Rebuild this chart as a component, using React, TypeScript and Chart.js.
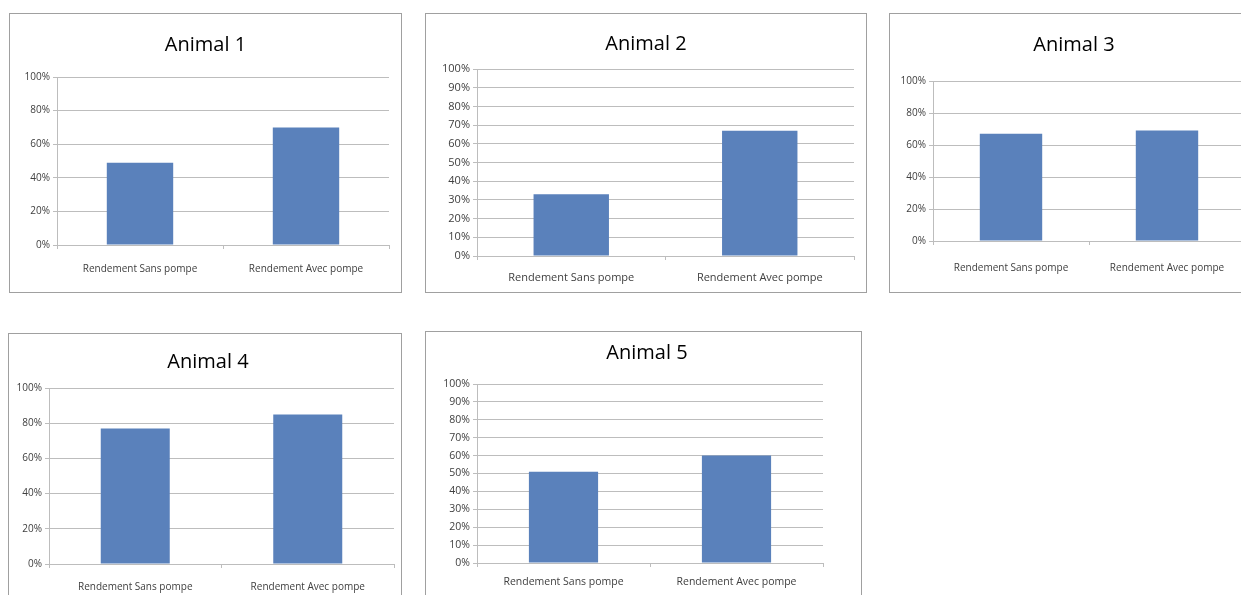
import React, { useEffect, useRef } from "react";
import { Chart, registerables } from "chart.js";

Chart.register(...registerables);

// ---- data ----
const categories = ["Rendement Sans pompe", "Rendement Avec pompe"];
const animalTitles = ["Animal 1", "Animal 2", "Animal 3", "Animal 4", "Animal 5"];
const sansPompe = [49, 33, 67, 77, 51]; // %
const avecPompe = [70, 67, 69, 85, 60]; // %
const tickSteps = [20, 10, 20, 20, 10]; // % between y tick labels
const yMax = 100;

// ---- layout (page pixels) ----
type Panel = {
  left: number; top: number; w: number; h: number;
  L: number; R: number; T: number; B: number; // plot area inside canvas
  tcx: number; tcy: number; // title centre inside canvas
  labelY: number; // category label centre inside canvas
  tickFont: number; catFont: number;
};

const PANELS: Panel[] = [
  { left: 9, top: 13, w: 393, h: 280, L: 47, R: 379, T: 63, B: 231, tcx: 195, tcy: 31, labelY: 255, tickFont: 10, catFont: 10 },
  { left: 425, top: 13, w: 442, h: 280, L: 51, R: 428, T: 55, B: 242, tcx: 219, tcy: 30, labelY: 264, tickFont: 11, catFont: 11 },
  { left: 889, top: 13, w: 370, h: 280, L: 43, R: 355, T: 67, B: 227, tcx: 184, tcy: 31, labelY: 254, tickFont: 10, catFont: 10 },
  { left: 8, top: 333, w: 394, h: 280, L: 40, R: 385, T: 54, B: 230, tcx: 199, tcy: 28, labelY: 253, tickFont: 10, catFont: 10 },
  { left: 425, top: 331, w: 437, h: 280, L: 51, R: 397, T: 52, B: 231, tcx: 221, tcy: 21, labelY: 250, tickFont: 10.5, catFont: 10.5 },
];

const TITLE_SIZE = 20;
const TITLE_LH = 1.2;
const GRID = "#bdbdbd";
const BAR = "#5A81BB";

function AnimalChart({ idx }: { idx: number }) {
  const ref = useRef<HTMLCanvasElement | null>(null);
  const p = PANELS[idx];
  const cw = p.w - 2;
  const ch = p.h - 2;

  useEffect(() => {
    if (!ref.current) return;
    const titleBox = TITLE_SIZE * TITLE_LH;
    const padLeft = Math.max(0, 2 * p.tcx - cw);
    const padTop = p.tcy - titleBox / 2;
    const titlePadBottom = p.T - (p.tcy + titleBox / 2);
    const yWidth = p.L - padLeft;
    const rightSpace = cw - p.R;
    const xHeight = ch - p.B;
    const tickLen = 4;
    const catPad = p.labelY - p.B - tickLen - p.catFont / 2 - 1;

    const chart = new Chart(ref.current, {
      type: "bar",
      data: {
        labels: categories,
        datasets: [
          {
            data: [sansPompe[idx], avecPompe[idx]],
            backgroundColor: BAR,
            borderWidth: 0,
            barPercentage: 0.4,
            categoryPercentage: 1,
          },
        ],
      },
      options: {
        animation: false,
        responsive: false,
        maintainAspectRatio: false,
        layout: { padding: { left: padLeft, right: 0, top: padTop, bottom: 0 } },
        plugins: {
          legend: { display: false },
          tooltip: { enabled: false },
          title: {
            display: true,
            text: animalTitles[idx],
            color: "#000000",
            font: { family: "'Open Sans', sans-serif", size: TITLE_SIZE, weight: "normal", lineHeight: TITLE_LH },
            padding: { top: 0, bottom: titlePadBottom },
          },
        },
        scales: {
          x: {
            offset: true,
            grid: {
              offset: true,
              display: true,
              drawOnChartArea: false,
              drawTicks: true,
              tickLength: tickLen,
              color: GRID,
            },
            border: { display: true, color: GRID },
            ticks: {
              color: "#404040",
              font: { family: "'Open Sans', sans-serif", size: p.catFont },
              padding: catPad,
              maxRotation: 0,
              autoSkip: false,
            },
            afterFit: (s: any) => { s.height = xHeight; },
          },
          y: {
            min: 0,
            max: yMax,
            grid: { color: GRID, tickLength: tickLen, drawTicks: true },
            border: { display: true, color: GRID },
            ticks: {
              stepSize: tickSteps[idx],
              color: "#404040",
              font: { family: "'Open Sans', sans-serif", size: p.tickFont },
              padding: 3,
              callback: (v: any) => `${v}%`,
            },
            afterFit: (s: any) => { s.width = yWidth; },
          },
          // empty spacer on the right so the plot ends where the reference's does
          spacer: {
            type: "linear",
            position: "right",
            display: true,
            min: 0,
            max: 1,
            grid: { display: false, drawTicks: false },
            border: { display: false },
            ticks: { display: false },
            afterFit: (s: any) => { s.width = rightSpace; },
          },
        },
      },
    });
    return () => chart.destroy();
  }, [idx]);

  return (
    <div
      style={{
        position: "absolute",
        left: p.left,
        top: p.top,
        width: p.w - 2,
        height: p.h - 2,
        border: "1px solid #a0a0a0",
        background: "#fff",
      }}
    >
      <canvas ref={ref} width={cw} height={ch} style={{ display: "block", width: cw, height: ch }} />
    </div>
  );
}

export default function App() {
  return (
    <div
      style={{
        position: "absolute",
        left: 0,
        top: 0,
        width: 1241,
        height: 595,
        overflow: "hidden",
        background: "#fff",
      }}
    >
      {PANELS.map((_, i) => (
        <AnimalChart key={i} idx={i} />
      ))}
    </div>
  );
}
